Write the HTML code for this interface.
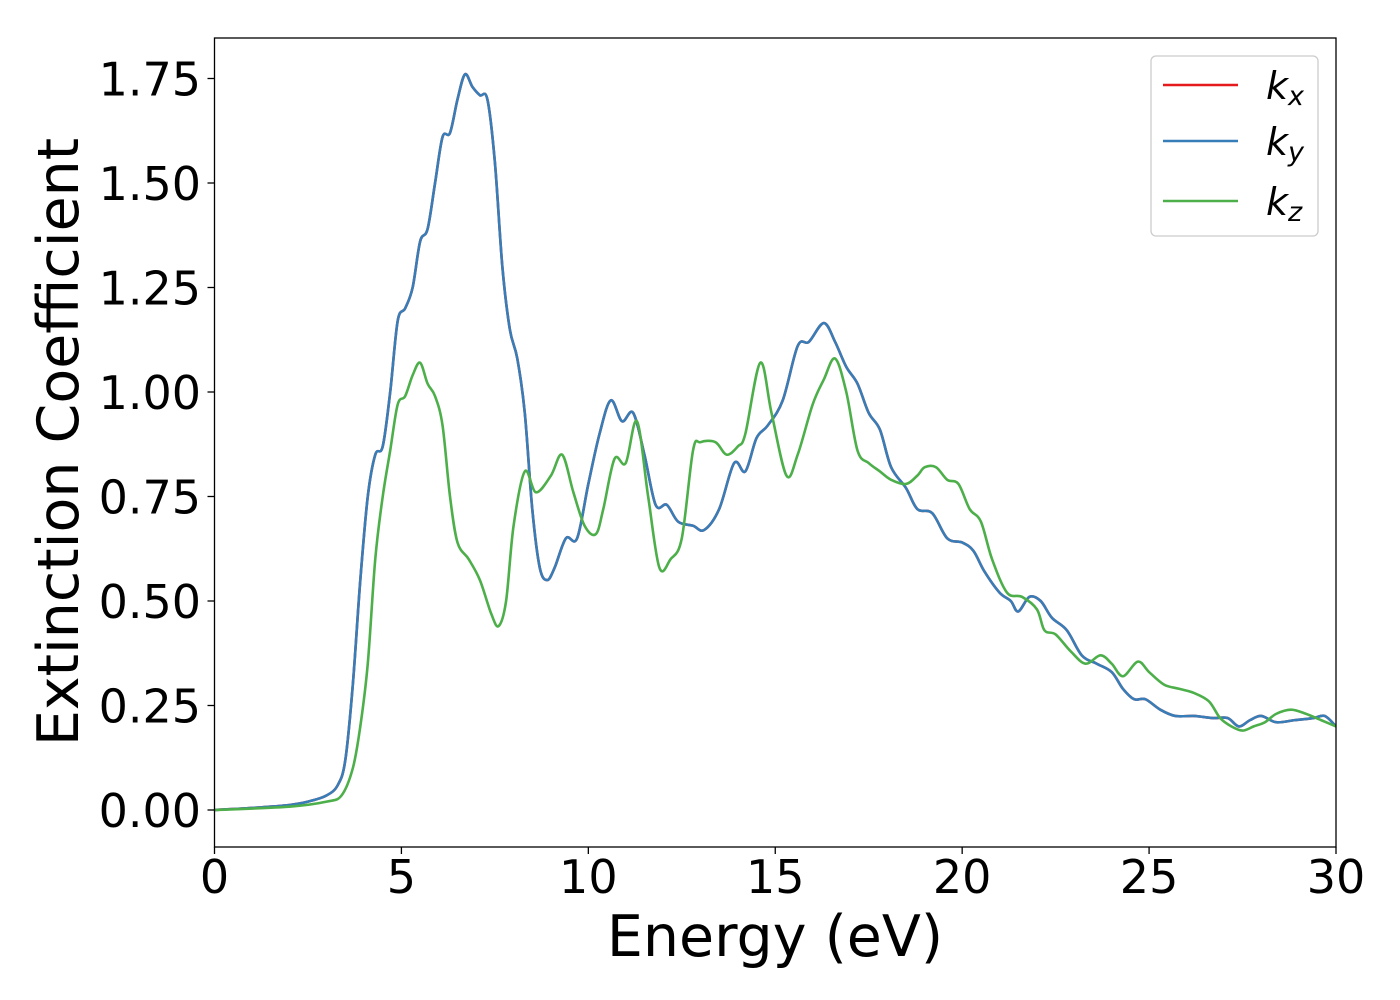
<!DOCTYPE html>
<html><head><meta charset="utf-8"><style>
html,body{margin:0;padding:0;background:#fff;}
svg{display:block;font-family:"DejaVu Sans","Liberation Sans",sans-serif;}
</style></head><body>
<svg id="chart" width="1400" height="1000" viewBox="0 0 1400 1000" xmlns="http://www.w3.org/2000/svg">
<g id="series"></g>
<rect x="214.5" y="38" width="1121.5" height="809" fill="none" stroke="#000" stroke-width="1.3"/>
<g id="xticks"></g>
<g id="yticks"></g>
<text x="775" y="956" font-size="57" text-anchor="middle">Energy (eV)</text>
<text transform="translate(78,442) rotate(-90)" font-size="57" text-anchor="middle">Extinction Coefficient</text>
<g>
<rect x="1151" y="56" width="167" height="180" rx="5" fill="#fff" fill-opacity="0.8" stroke="#ccc" stroke-width="1.3"/>
<line x1="1163" y1="85" x2="1238" y2="85" stroke="#e41a1c" stroke-width="2.5"/>
<text x="1266" y="99" font-size="38" font-style="italic">k<tspan font-size="27" dy="6">x</tspan></text>
<line x1="1163" y1="141" x2="1238" y2="141" stroke="#377eb8" stroke-width="2.5"/>
<text x="1266" y="155" font-size="38" font-style="italic">k<tspan font-size="27" dy="6">y</tspan></text>
<line x1="1163" y1="201" x2="1238" y2="201" stroke="#4daf4a" stroke-width="2.5"/>
<text x="1266" y="215" font-size="38" font-style="italic">k<tspan font-size="27" dy="6">z</tspan></text>
</g>
</svg>
<script>
const energyXY=[0,1,2,2.5,3,3.3,3.5,3.7,3.9,4.1,4.3,4.5,4.7,4.9,5.1,5.3,5.5,5.7,5.9,6.1,6.3,6.5,6.7,6.9,7.1,7.3,7.5,7.7,7.9,8.1,8.3,8.5,8.7,8.9,9.1,9.4,9.7,10.0,10.3,10.6,10.9,11.2,11.5,11.8,12.1,12.4,12.8,13.1,13.5,13.9,14.2,14.5,14.8,15.2,15.6,15.9,16.3,16.6,16.9,17.2,17.5,17.8,18.1,18.5,18.8,19.2,19.6,20.0,20.3,20.6,21.0,21.3,21.5,21.8,22.1,22.4,22.8,23.2,23.6,24.0,24.3,24.6,24.9,25.3,25.7,26.2,26.7,27.1,27.4,27.7,28.0,28.4,28.9,29.4,29.7,30];
const kxValues=[0,0.005,0.012,0.02,0.035,0.06,0.12,0.3,0.55,0.75,0.85,0.87,1.0,1.17,1.2,1.25,1.36,1.39,1.5,1.61,1.62,1.7,1.76,1.73,1.71,1.70,1.55,1.3,1.15,1.08,0.95,0.72,0.58,0.55,0.58,0.65,0.65,0.78,0.9,0.98,0.93,0.95,0.85,0.73,0.73,0.69,0.68,0.67,0.72,0.83,0.81,0.89,0.92,0.98,1.11,1.12,1.165,1.12,1.06,1.02,0.95,0.91,0.82,0.77,0.72,0.71,0.65,0.64,0.62,0.57,0.52,0.50,0.475,0.51,0.5,0.46,0.43,0.37,0.35,0.33,0.29,0.265,0.265,0.24,0.225,0.225,0.22,0.22,0.20,0.215,0.225,0.21,0.215,0.22,0.225,0.2];
const kyValues=kxValues.slice();
const energyZ=[0,2,3,3.4,3.7,3.9,4.1,4.3,4.5,4.7,4.9,5.1,5.3,5.5,5.7,5.9,6.1,6.3,6.5,6.8,7.1,7.4,7.6,7.8,8.0,8.3,8.6,9.0,9.3,9.6,9.9,10.2,10.4,10.7,11.0,11.3,11.6,11.9,12.2,12.5,12.8,13.0,13.4,13.7,14.0,14.2,14.6,14.9,15.3,15.6,16.0,16.3,16.6,16.9,17.2,17.5,17.8,18.1,18.5,18.8,19.0,19.3,19.6,19.9,20.2,20.5,20.8,21.2,21.6,22.0,22.2,22.5,22.9,23.3,23.7,24.0,24.3,24.7,25.0,25.4,25.8,26.2,26.6,26.9,27.2,27.5,27.8,28.1,28.4,28.8,29.2,29.6,30];
const kzValues=[0,0.008,0.02,0.035,0.1,0.2,0.35,0.6,0.75,0.86,0.97,0.99,1.04,1.07,1.02,0.99,0.92,0.75,0.64,0.6,0.55,0.47,0.44,0.5,0.68,0.81,0.76,0.8,0.85,0.76,0.68,0.66,0.72,0.84,0.83,0.93,0.75,0.58,0.6,0.65,0.86,0.88,0.88,0.85,0.87,0.9,1.07,0.95,0.8,0.85,0.97,1.03,1.08,1.0,0.86,0.83,0.81,0.79,0.78,0.80,0.82,0.82,0.79,0.78,0.72,0.69,0.6,0.52,0.51,0.48,0.43,0.42,0.38,0.35,0.37,0.35,0.32,0.355,0.33,0.3,0.29,0.28,0.26,0.22,0.2,0.19,0.2,0.21,0.23,0.24,0.23,0.215,0.2];
const xTicks=[0,5,10,15,20,25,30];
const yTicks=[0,0.25,0.5,0.75,1.0,1.25,1.5,1.75];
const yTickLabels=["0.00","0.25","0.50","0.75","1.00","1.25","1.50","1.75"];

const NS="http://www.w3.org/2000/svg";
function xScale(v){return 214.5+(v-0)/30*1121.5;}
function yScale(v){return 810-v*418;}
function pathFor(xs,ys){
  const p=xs.map((x,i)=>[xScale(x),yScale(ys[i])]);
  let d="M"+p[0][0].toFixed(2)+","+p[0][1].toFixed(2);
  for(let i=0;i<p.length-1;i++){
    const p0=p[Math.max(0,i-1)],p1=p[i],p2=p[i+1],p3=p[Math.min(p.length-1,i+2)];
    const c1x=p1[0]+(p2[0]-p0[0])/6,c1y=p1[1]+(p2[1]-p0[1])/6;
    const c2x=p2[0]-(p3[0]-p1[0])/6,c2y=p2[1]-(p3[1]-p1[1])/6;
    d+="C"+c1x.toFixed(2)+","+c1y.toFixed(2)+" "+c2x.toFixed(2)+","+c2y.toFixed(2)+" "+p2[0].toFixed(2)+","+p2[1].toFixed(2);
  }
  return d;
}
const sg=document.getElementById("series");
const clip=document.createElementNS(NS,"clipPath");clip.setAttribute("id","pc");
const cr=document.createElementNS(NS,"rect");cr.setAttribute("x",214.5);cr.setAttribute("y",38);cr.setAttribute("width",1121.5);cr.setAttribute("height",809);
clip.appendChild(cr);sg.appendChild(clip);sg.setAttribute("clip-path","url(#pc)");
[["kx",energyXY,kxValues,"#e41a1c"],["ky",energyXY,kyValues,"#377eb8"],["kz",energyZ,kzValues,"#4daf4a"]].forEach(s=>{
  const el=document.createElementNS(NS,"path");
  el.setAttribute("d",pathFor(s[1],s[2]));
  el.setAttribute("fill","none");el.setAttribute("stroke",s[3]);el.setAttribute("stroke-width","2.6");
  
  
  sg.appendChild(el);
});
const xg=document.getElementById("xticks");
xTicks.forEach(t=>{
  const l=document.createElementNS(NS,"line");
  l.setAttribute("x1",xScale(t));l.setAttribute("x2",xScale(t));l.setAttribute("y1",847);l.setAttribute("y2",854);l.setAttribute("stroke","#000");l.setAttribute("stroke-width","1.3");
  
  
  xg.appendChild(l);
  const tx=document.createElementNS(NS,"text");
  tx.setAttribute("x",xScale(t));tx.setAttribute("y",893);tx.setAttribute("font-size","46");tx.setAttribute("text-anchor","middle");
  tx.textContent=String(t);
  
  
  xg.appendChild(tx);
});
const yg=document.getElementById("yticks");
yTicks.forEach((t,i)=>{
  const l=document.createElementNS(NS,"line");
  l.setAttribute("x1",207.5);l.setAttribute("x2",214.5);l.setAttribute("y1",yScale(t));l.setAttribute("y2",yScale(t));l.setAttribute("stroke","#000");l.setAttribute("stroke-width","1.3");
  
  
  yg.appendChild(l);
  const tx=document.createElementNS(NS,"text");
  tx.setAttribute("x",201);tx.setAttribute("y",yScale(t)+17);tx.setAttribute("font-size","46");tx.setAttribute("text-anchor","end");
  tx.textContent=yTickLabels[i];
  
  
  yg.appendChild(tx);
});
</script>
</body></html>
